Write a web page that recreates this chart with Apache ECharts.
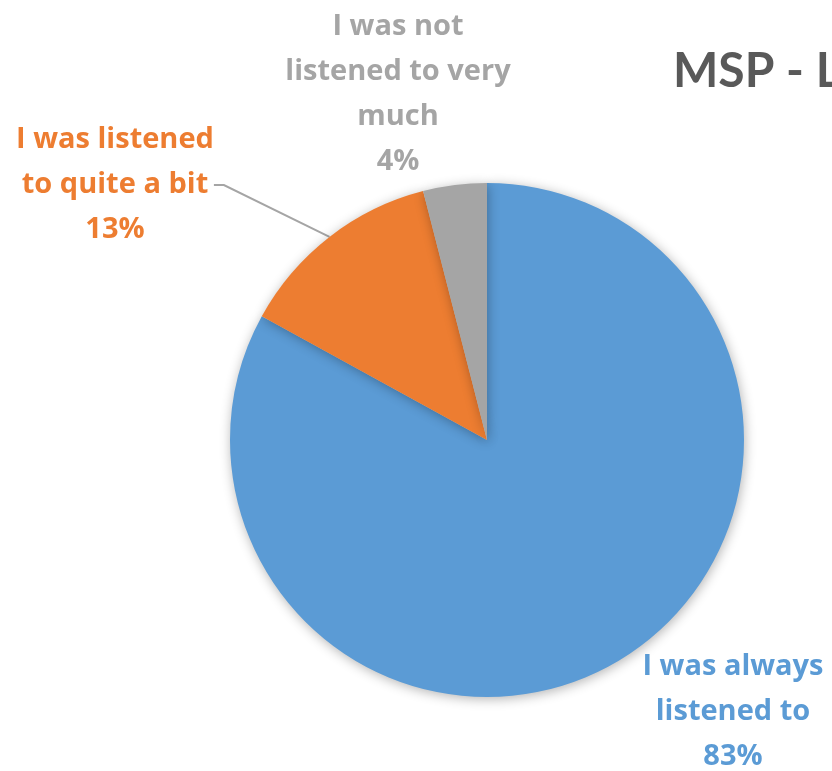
<!DOCTYPE html>
<html><head><meta charset="utf-8">
<script src="https://cdn.jsdelivr.net/npm/echarts@6/dist/echarts.min.js"></script>
<style>html,body{margin:0;padding:0;background:#fff;}#c{width:832px;height:771px;}</style>
</head><body><div id="c"></div>
<script>
const categories = ["I was always\nlistened to", "I was listened\nto quite a bit", "I was not\nlistened to very\nmuch"];
const values = [83, 13, 4];
const colors = ["#5B9BD5", "#ED7D31", "#A5A5A5"];
const titleText = "MSP - Listening";

const labelPos = [
  {x: 733, y: 712},
  {x: 115, y: 185},
  {x: 398, y: 94}
];

const chart = echarts.init(document.getElementById('c'));
chart.setOption({
  animation: false,
  title: {
    text: titleText, left: 668, top: 43,
    textStyle: {fontFamily: 'Lato', fontWeight: 'bold', fontSize: 48, color: '#595959'}
  },
  series: [{
    type: 'pie',
    center: [487, 440], radius: 257,
    startAngle: 90, clockwise: true,
    data: categories.map((c, i) => ({
      name: c, value: values[i],
      itemStyle: {color: colors[i]},
      label: {color: colors[i]},
      labelLine: {show: i === 1}
    })),
    itemStyle: {borderWidth: 0, shadowBlur: 12, shadowColor: 'rgba(0,0,0,0.3)', shadowOffsetY: 2, shadowOffsetX: 1},
    label: {
      show: true, position: 'outside',
      formatter: p => p.name + '\n' + p.value + '%',
      fontFamily: 'Open Sans', fontWeight: 'bold', fontSize: 29, lineHeight: 45, align: 'center'
    },
    labelLine: {show: true, lineStyle: {color: '#A5A5A5', width: 2}, length: 10, length2: 10},
    labelLayout: p => ({x: labelPos[p.dataIndex].x, y: labelPos[p.dataIndex].y, align: 'center', verticalAlign: 'middle'})
  }]
});
</script></body></html>
